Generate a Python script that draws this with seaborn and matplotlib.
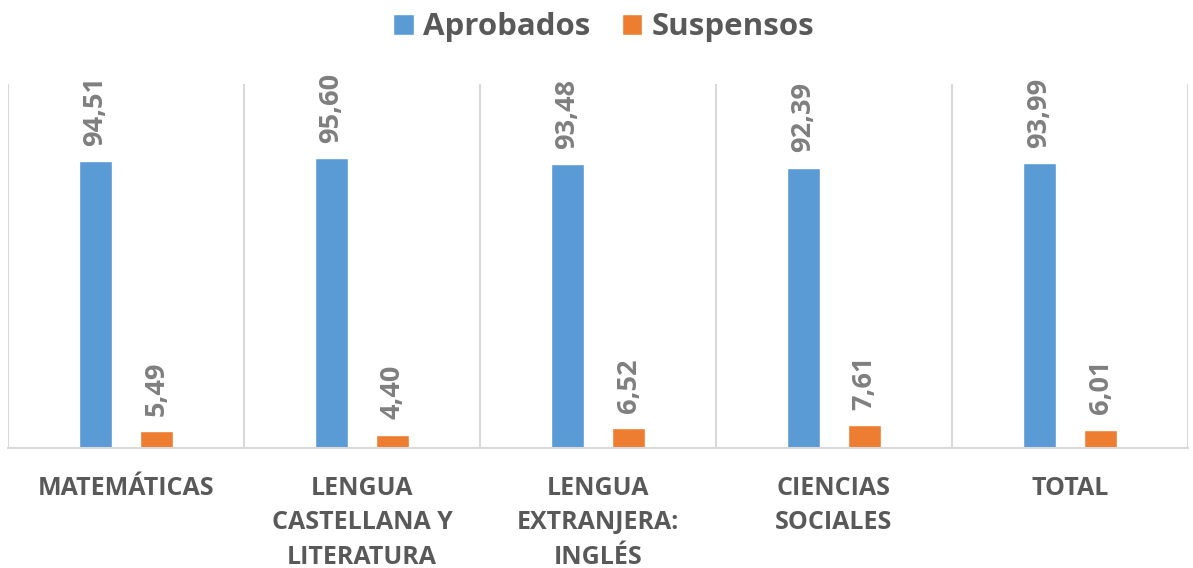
import matplotlib
matplotlib.use("Agg")
import matplotlib.pyplot as plt
import seaborn as sns
import pandas as pd

categories = ["MATEMÁTICAS", "LENGUA\nCASTELLANA Y\nLITERATURA", "LENGUA\nEXTRANJERA:\nINGLÉS",
              "CIENCIAS\nSOCIALES", "TOTAL"]
aprobados = [94.51, 95.60, 93.48, 92.39, 93.99]
suspensos = [5.49, 4.40, 6.52, 7.61, 6.01]
series = ["Aprobados", "Suspensos"]
colors = ["#5B9BD5", "#ED7D31"]

sns.set_theme(style="white")
plt.rcParams['font.family'] = ['Open Sans', 'DejaVu Sans']

df = pd.DataFrame({
    "cat": categories * 2,
    "serie": [series[0]] * len(categories) + [series[1]] * len(categories),
    "val": aprobados + suspensos,
})

fig = plt.figure(figsize=(11.93, 5.68), dpi=100)
ax = fig.add_axes([8/1193, 1 - 448/568, 1180/1193, (448 - 84)/568])

sns.barplot(data=df, x="cat", y="val", hue="serie", palette=colors, order=categories,
            hue_order=series, width=0.52, gap=0.46, ax=ax, saturation=1, legend=True)

ax.set_ylim(0, 120)
ax.set_xlim(-0.5, len(categories) - 0.5)
ax.set_xlabel("")
ax.set_ylabel("")
ax.set_yticks([])

for cont in ax.containers:
    labels = [f"{b.get_height():.2f}".replace(".", ",") for b in cont]
    ax.bar_label(cont, labels=labels, rotation=90, padding=11, fontsize=19.5,
                 fontweight="bold", color="#7F7F7F")

ax.set_xticks(range(len(categories)))
ax.set_xticklabels(categories, fontsize=18, fontweight="bold", color="#595959",
                   linespacing=1.5, va="top")
ax.tick_params(axis="x", length=0, pad=20)

ax.set_xticks([i - 0.5 for i in range(len(categories) + 1)], minor=True)
ax.tick_params(axis="x", which="minor", length=0)
ax.grid(True, which="minor", axis="x", color="#D9D9D9", linewidth=1.5)
ax.grid(False, which="major")

for s in ["top", "right", "left"]:
    ax.spines[s].set_visible(False)
ax.spines["bottom"].set_color("#D9D9D9")
ax.spines["bottom"].set_linewidth(1.5)

handles, lbls = ax.get_legend_handles_labels()
ax.legend(handles, lbls, loc="upper center", bbox_to_anchor=(0.506, 1.0), bbox_transform=fig.transFigure,
          ncol=2, frameon=False, handlelength=0.66, handleheight=0.66, handletextpad=0.3,
          columnspacing=1.0, prop={"size": 22.5, "weight": "bold"}, labelcolor="#595959",
          borderaxespad=0.0)

fig.savefig("out.png", dpi=100)
